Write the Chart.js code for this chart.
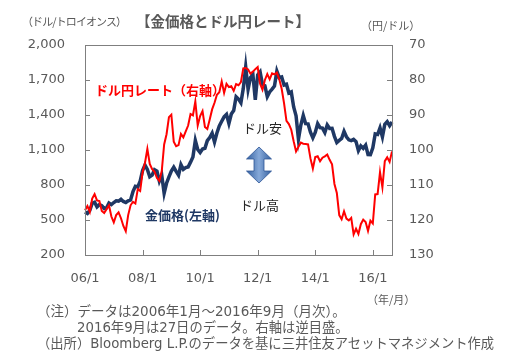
<!DOCTYPE html>
<html>
<head>
<meta charset="utf-8">
<script src="https://cdn.jsdelivr.net/npm/chart.js@4.4.0/dist/chart.umd.min.js"></script>
<style>
  html, body { margin: 0; padding: 0; background: #fff; }
  #wrap { position: relative; width: 507px; height: 360px; overflow: hidden; }
  canvas { position: absolute; left: 0; top: 0; }
  .t { position: absolute; white-space: nowrap; font-family: "DejaVu Sans", "Noto Sans CJK JP", sans-serif; color: #595959; transform: translateY(-50%); line-height: 1; }
  .jp { font-family: "Noto Sans CJK JP", sans-serif; }
</style>
</head>
<body>
<div id="wrap">
  <canvas id="c" width="507" height="360"></canvas>
  <div class="t jp" style="left:22px; top:21px; font-size:11px; letter-spacing:-0.9px;">（ドル/トロイオンス）</div>
  <div class="t jp" style="left:136px; top:21px; font-size:14.5px; font-weight:bold;">【金価格とドル円レート】</div>
  <div class="t jp" style="left:361px; top:25px; font-size:11px;">（円/ドル）</div>
  <div class="t jp" style="left:95px; top:89px; font-size:13px; font-weight:bold; color:#ff0000;">ドル円レート（右軸）</div>
  <div class="t jp" style="left:145px; top:214px; font-size:13px; font-weight:bold; color:#1f3864;">金価格(左軸)</div>
  <div class="t jp" style="left:243px; top:127px; font-size:13px; color:#262626;">ドル安</div>
  <div class="t jp" style="left:240px; top:204px; font-size:13px; color:#262626;">ドル高</div>
  <div class="t jp" style="left:367px; top:299px; font-size:11px;">（年/月）</div>
  <div class="t" style="left:37px; top:312px; font-size:13.5px;">（注）データは2006年1月～2016年9月（月次）。</div>
  <div class="t" style="left:77px; top:328px; font-size:13.3px;">2016年9月は27日のデータ。右軸は逆目盛。</div>
  <div class="t" style="left:37px; top:344px; font-size:13.3px;">（出所）Bloomberg L.P.のデータを基に三井住友アセットマネジメント作成</div>
</div>
<script>
// ---- data ----
const years = [2006, 2007, 2008, 2009, 2010, 2011, 2012, 2013, 2014, 2015, 2016];
const lastMonth2016 = 9;
const tickLabels = ['06/1', '08/1', '10/1', '12/1', '14/1', '16/1'];
const goldPrice = [
  568, 556, 582, 644, 653, 613, 632, 623, 599, 604, 646, 632,
  650, 665, 662, 677, 659, 650, 665, 672, 743, 789, 783, 834,
  923, 971, 933, 871, 885, 930, 918, 833, 884, 730, 815, 869,
  919, 952, 916, 883, 975, 934, 949, 955, 996, 1040, 1182, 1104,
  1078, 1109, 1115, 1180, 1207, 1244, 1169, 1246, 1307, 1346, 1384, 1405,
  1327, 1409, 1439, 1556, 1536, 1505, 1628, 1813, 1620, 1722, 1746, 1531,
  1744, 1770, 1662, 1651, 1558, 1598, 1622, 1648, 1776, 1720, 1726, 1657,
  1664, 1588, 1598, 1469, 1394, 1192, 1314, 1396, 1326, 1324, 1253, 1204,
  1251, 1326, 1291, 1288, 1250, 1315, 1285, 1286, 1217, 1164, 1182, 1199,
  1260, 1213, 1187, 1180, 1191, 1172, 1095, 1135, 1115, 1142, 1061, 1060,
  1118, 1238, 1233, 1290, 1213, 1320, 1343, 1309, 1340
];
const usdJpy = [
  117.2, 116.0, 117.7, 113.9, 112.6, 114.4, 114.6, 117.4, 118.0, 116.9, 115.8, 119.0,
  120.7, 118.6, 117.8, 119.5, 121.7, 123.2, 118.6, 115.8, 114.8, 115.3, 111.2, 111.7,
  106.4, 103.7, 99.7, 104.0, 105.5, 106.2, 108.0, 108.8, 106.0, 98.4, 95.5, 90.6,
  89.9, 97.6, 98.9, 98.6, 95.4, 96.4, 94.7, 93.0, 89.7, 90.1, 86.1, 93.0,
  90.3, 88.9, 93.4, 94.0, 91.3, 88.4, 86.5, 84.2, 83.5, 80.4, 83.7, 81.1,
  82.0, 81.8, 83.1, 81.2, 81.5, 80.6, 76.7, 76.6, 77.0, 78.2, 77.6, 76.9,
  76.3, 81.1, 82.8, 80.0, 78.3, 79.8, 78.1, 78.4, 77.9, 79.8, 82.5, 86.7,
  91.7, 92.6, 94.2, 97.5, 100.4, 99.1, 97.9, 98.2, 98.3, 98.4, 102.4, 105.3,
  102.0, 101.8, 103.2, 102.2, 101.8, 101.3, 102.8, 104.1, 109.7, 112.3, 118.6, 119.8,
  117.5, 119.6, 120.1, 119.4, 124.1, 122.5, 124.0, 121.2, 119.9, 120.6, 123.1, 120.2,
  121.0, 112.7, 112.6, 106.3, 110.7, 103.2, 102.1, 103.4, 100.4
];

// category labels (yy/m)
const categories = [];
years.forEach(y => {
  const n = (y === 2016) ? lastMonth2016 : 12;
  for (let m = 1; m <= n; m++) categories.push(String(y).slice(2) + '/' + m);
});

const tickFont = { family: 'DejaVu Sans', size: 13 };
const tickColor = '#595959';

const framePlugin = {
  id: 'frame',
  afterDatasetsDraw(chart) {
    const { ctx, chartArea: a, scales } = chart;
    ctx.save();
    ctx.strokeStyle = '#7f7f7f';
    ctx.lineWidth = 1;
    ctx.beginPath();
    scales.y.ticks.forEach(t => {
      const py = Math.round(scales.y.getPixelForValue(t.value)) + 0.5;
      ctx.moveTo(a.left, py); ctx.lineTo(a.left + 5, py);
    });
    scales.y1.ticks.forEach(t => {
      const py = Math.round(scales.y1.getPixelForValue(t.value)) + 0.5;
      ctx.moveTo(a.right - 5, py); ctx.lineTo(a.right, py);
    });
    tickLabels.forEach(l => {
      const i = categories.indexOf(l);
      const px = Math.round(scales.x.getPixelForValue(i)) + 0.5;
      ctx.moveTo(px, a.bottom); ctx.lineTo(px, a.bottom - 5);
    });
    ctx.stroke();
    ctx.strokeRect(Math.round(a.left) + 0.5, Math.round(a.top) + 0.5, Math.round(a.right - a.left), Math.round(a.bottom - a.top));

    // double-headed arrow (ドル安 / ドル高)
    const cx = a.left + 174, top = a.top + 102, bot = a.top + 138;
    const hw = 12.5, sw = 5, hh = 12;
    const g = ctx.createLinearGradient(cx - hw, 0, cx + hw, 0);
    g.addColorStop(0, '#34609f');
    g.addColorStop(0.5, '#86a9d9');
    g.addColorStop(1, '#34609f');
    ctx.fillStyle = g;
    ctx.beginPath();
    ctx.moveTo(cx, top);
    ctx.lineTo(cx + hw, top + hh);
    ctx.lineTo(cx + sw, top + hh);
    ctx.lineTo(cx + sw, bot - hh);
    ctx.lineTo(cx + hw, bot - hh);
    ctx.lineTo(cx, bot);
    ctx.lineTo(cx - hw, bot - hh);
    ctx.lineTo(cx - sw, bot - hh);
    ctx.lineTo(cx - sw, top + hh);
    ctx.lineTo(cx - hw, top + hh);
    ctx.closePath();
    ctx.fill();
    ctx.strokeStyle = '#2f5597';
    ctx.lineWidth = 0.8;
    ctx.stroke();
    ctx.restore();
  }
};

new Chart(document.getElementById('c'), {
  type: 'line',
  data: {
    labels: categories,
    datasets: [
      {
        label: '金価格(左軸)',
        data: goldPrice,
        yAxisID: 'y',
        borderColor: '#1f3864',
        borderWidth: 3.5,
        pointRadius: 0,
        tension: 0,
        order: 2
      },
      {
        label: 'ドル円レート（右軸）',
        data: usdJpy,
        yAxisID: 'y1',
        borderColor: '#ff0000',
        borderWidth: 2,
        pointRadius: 0,
        tension: 0,
        order: 1
      }
    ]
  },
  options: {
    responsive: false,
    animation: false,
    devicePixelRatio: 1,
    layout: { padding: { top: 45, left: 0, right: 0, bottom: 0 } },
    plugins: { legend: { display: false }, tooltip: { enabled: false } },
    scales: {
      x: {
        type: 'category',
        offset: false,
        grid: { display: false, drawTicks: false },
        border: { display: false },
        ticks: {
          autoSkip: false,
          maxRotation: 0,
          minRotation: 0,
          padding: 16,
          font: tickFont,
          color: tickColor,
          callback: function (v) {
            const l = categories[v];
            return tickLabels.includes(l) ? l : null;
          }
        },
        afterFit: s => { s.height = 105; }
      },
      y: {
        position: 'left',
        min: 200, max: 2000,
        grid: { display: false, drawTicks: false },
        border: { display: false },
        ticks: {
          stepSize: 300,
          padding: 20,
          font: tickFont,
          color: tickColor,
          callback: v => v.toLocaleString('en-US')
        },
        afterFit: s => { s.width = 85; }
      },
      y1: {
        position: 'right',
        min: 70, max: 130,
        reverse: true,
        grid: { display: false, drawTicks: false },
        border: { display: false },
        ticks: {
          stepSize: 10,
          padding: 17,
          font: tickFont,
          color: tickColor
        },
        afterFit: s => { s.width = 115; }
      }
    }
  },
  plugins: [framePlugin]
});
</script>
</body>
</html>
